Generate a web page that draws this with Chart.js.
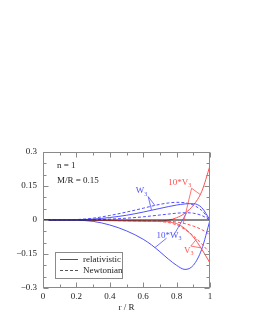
<!DOCTYPE html>
<html>
<head>
<meta charset="utf-8">
<script src="https://cdn.jsdelivr.net/npm/chart.js@4"></script>
<style>
html, body { margin: 0; padding: 0; background: #fff; }
</style>
</head>
<body>
<canvas id="grafica" width="253" height="327"></canvas>
<script>
// Datos
const radios = [0, 0.1, 0.2, 0.3, 0.4, 0.5, 0.6, 0.65, 0.7, 0.75, 0.8, 0.85, 0.9, 0.95, 1.0];
const wRel   = [0, 0, 0.001, 0.004, 0.011, 0.021, 0.035, 0.043, 0.051, 0.059, 0.066, 0.071, 0.072, 0.055, 0];
const wNew   = [0, 0, 0.002, 0.008, 0.020, 0.035, 0.052, 0.061, 0.069, 0.075, 0.078, 0.076, 0.066, 0.042, 0];
const w10Rel = [0, 0, -0.001, -0.006, -0.022, -0.048, -0.085, -0.110, -0.140, -0.172, -0.200, -0.218, -0.200, -0.130, 0];
const w10New = [0, 0, 0, 0.001, 0.004, 0.008, 0.014, 0.018, 0.022, 0.026, 0.030, 0.032, 0.030, 0.020, 0];
const v10Rel = [0, 0, 0, -0.001, -0.003, -0.004, -0.005, -0.005, -0.004, -0.001, 0.010, 0.030, 0.065, 0.125, 0.240];
const v10New = [0, 0, 0, -0.001, -0.002, -0.003, -0.004, -0.004, -0.004, -0.005, -0.009, -0.016, -0.027, -0.042, -0.065];
const vRel   = [0, 0, 0, -0.001, -0.002, -0.003, -0.004, -0.005, -0.006, -0.008, -0.016, -0.038, -0.075, -0.128, -0.190];
const vNew   = [0, 0, 0, -0.001, -0.002, -0.003, -0.004, -0.005, -0.007, -0.011, -0.022, -0.042, -0.070, -0.105, -0.146];
const radiosCero = [0, 1];
const valoresCero = [0, 0];

const xEtiquetas = ['0', '0.2', '0.4', '0.6', '0.8', '1'];
const yEtiquetas = ['\u22120.3', '\u22120.15', '0', '0.15', '0.3'];

const azul = '#5050ff';
const rojo = '#ff5050';
const gris = '#8a8a8a';
const fuente = "'Liberation Serif', 'DejaVu Serif', serif";

function puntos(rs, valores) {
    return rs.map((r, i) => ({ x: r, y: valores[i] }));
}
function valorEn(valores, r) {
    for (let i = 1; i < radios.length; i++) {
        if (r <= radios[i]) {
            const t = (r - radios[i - 1]) / (radios[i] - radios[i - 1]);
            return valores[i - 1] + t * (valores[i] - valores[i - 1]);
        }
    }
    return valores[valores.length - 1];
}

// Etiquetas de las curvas con sus lineas guia
const etiquetas = [
    { base: 'W', sub: '3', color: azul, r: 0.555, v: 0.128, desde: [0.63, 0.103], hacia: [[wNew, 0.67], [wRel, 0.65]] },
    { base: '10*W', sub: '3', color: azul, r: 0.68, v: -0.068, desde: [0.74, -0.08], hacia: [[w10Rel, 0.67]] },
    { base: '10*W', sub: '3', color: azul, r: 0.68, v: -0.068, desde: [0.79, -0.058], hacia: [[w10New, 0.86]], sinTexto: true },
    { base: '10*V', sub: '3', color: rojo, r: 0.75, v: 0.165, desde: [0.89, 0.14], hacia: [[v10Rel, 0.94], [v10New, 0.84]] },
    { base: 'V', sub: '3', color: rojo, r: 0.845, v: -0.135, desde: [0.885, -0.115], hacia: [[vNew, 0.92], [vRel, 0.945]] }
];

const marcas = {
    id: 'marcas',
    afterDatasetsDraw(chart) {
        const { ctx, chartArea: a, scales: { x, y } } = chart;
        ctx.save();
        // marco
        ctx.strokeStyle = gris;
        ctx.lineWidth = 1;
        const l = Math.round(a.left) + 0.5, rr = Math.round(a.right) - 0.5;
        const t = Math.round(a.top) + 0.5, b = Math.round(a.bottom) - 0.5;
        ctx.strokeRect(l, t, rr - l, b - t);
        // ticks hacia dentro
        ctx.beginPath();
        for (let i = 0; i <= 10; i++) {
            const px = Math.round(x.getPixelForValue(i / 10)) + 0.5;
            const largo = i % 2 === 0 ? 5 : 3;
            ctx.moveTo(px, b); ctx.lineTo(px, b - largo);
            ctx.moveTo(px, t); ctx.lineTo(px, t + largo);
        }
        for (let i = 0; i <= 12; i++) {
            const py = Math.round(y.getPixelForValue(-0.3 + i * 0.05)) + 0.5;
            const largo = i % 3 === 0 ? 5 : 3;
            ctx.moveTo(l, py); ctx.lineTo(l + largo, py);
            ctx.moveTo(rr, py); ctx.lineTo(rr - largo, py);
        }
        ctx.stroke();

        // textos
        ctx.fillStyle = '#222';
        ctx.font = '9px ' + fuente;
        ctx.textBaseline = 'middle';
        ctx.textAlign = 'left';
        ctx.fillText('n = 1', 57, 166);
        ctx.fillText('M/R = 0.15', 57, 181);

        // leyenda
        ctx.strokeStyle = gris;
        ctx.strokeRect(55.5, 252.5, 67, 26);
        ctx.strokeStyle = '#555';
        ctx.beginPath();
        ctx.moveTo(60, 259.5); ctx.lineTo(78, 259.5);
        ctx.stroke();
        ctx.setLineDash([3, 2]);
        ctx.beginPath();
        ctx.moveTo(60, 270.5); ctx.lineTo(78, 270.5);
        ctx.stroke();
        ctx.setLineDash([]);
        ctx.fillText('relativistic', 83, 259.5);
        ctx.fillText('Newtonian', 83, 270.5);

        // etiquetas de curvas
        ctx.lineWidth = 0.8;
        etiquetas.forEach(e => {
            ctx.strokeStyle = e.color;
            ctx.fillStyle = e.color;
            const x0 = x.getPixelForValue(e.desde[0]);
            const y0 = y.getPixelForValue(e.desde[1]);
            ctx.beginPath();
            e.hacia.forEach(([serie, r]) => {
                ctx.moveTo(x0, y0);
                ctx.lineTo(x.getPixelForValue(r), y.getPixelForValue(valorEn(serie, r)));
            });
            ctx.stroke();
            if (e.sinTexto) return;
            const tx = x.getPixelForValue(e.r);
            const ty = y.getPixelForValue(e.v);
            ctx.font = '9px ' + fuente;
            ctx.fillText(e.base, tx, ty);
            const ancho = ctx.measureText(e.base).width;
            ctx.font = '6px ' + fuente;
            ctx.fillText(e.sub, tx + ancho, ty + 3);
        });
        ctx.restore();
    }
};

function serie(valores, color, discontinua) {
    return {
        data: puntos(radios, valores),
        borderColor: color,
        borderDash: discontinua ? [3, 2] : [],
        borderWidth: 1,
        pointRadius: 0,
        fill: false,
        cubicInterpolationMode: 'monotone'
    };
}

const ctx = document.getElementById('grafica').getContext('2d');
new Chart(ctx, {
    type: 'line',
    data: {
        datasets: [
            { data: puntos(radiosCero, valoresCero), borderColor: '#111', borderWidth: 1, pointRadius: 0 },
            serie(wRel, azul, false),
            serie(wNew, azul, true),
            serie(w10Rel, azul, false),
            serie(w10New, azul, true),
            serie(v10Rel, rojo, false),
            serie(v10New, rojo, true),
            serie(vRel, rojo, false),
            serie(vNew, rojo, true)
        ]
    },
    options: {
        responsive: false,
        animation: false,
        layout: { padding: { top: 152, right: 43, bottom: 14, left: 0 } },
        plugins: {
            legend: { display: false },
            tooltip: { enabled: false }
        },
        scales: {
            x: {
                type: 'linear',
                min: 0,
                max: 1,
                grid: { display: false, drawTicks: false },
                border: { display: false },
                ticks: {
                    stepSize: 0.2,
                    padding: 3,
                    color: '#222',
                    font: { family: fuente, size: 9 },
                    callback: (v) => xEtiquetas[Math.round(v / 0.2)]
                },
                title: {
                    display: true,
                    text: 'r / R',
                    color: '#222',
                    font: { family: fuente, size: 9 },
                    padding: 0
                },
                afterFit: (s) => { s.height = 25; }
            },
            y: {
                min: -0.3,
                max: 0.3,
                grid: { display: false, drawTicks: false },
                border: { display: false },
                ticks: {
                    stepSize: 0.15,
                    padding: 6,
                    color: '#222',
                    font: { family: fuente, size: 9 },
                    callback: (v) => yEtiquetas[Math.round(v / 0.15) + 2]
                },
                afterFit: (s) => { s.height; s.width = 43; }
            }
        }
    },
    plugins: [marcas]
});
</script>
</body>
</html>
